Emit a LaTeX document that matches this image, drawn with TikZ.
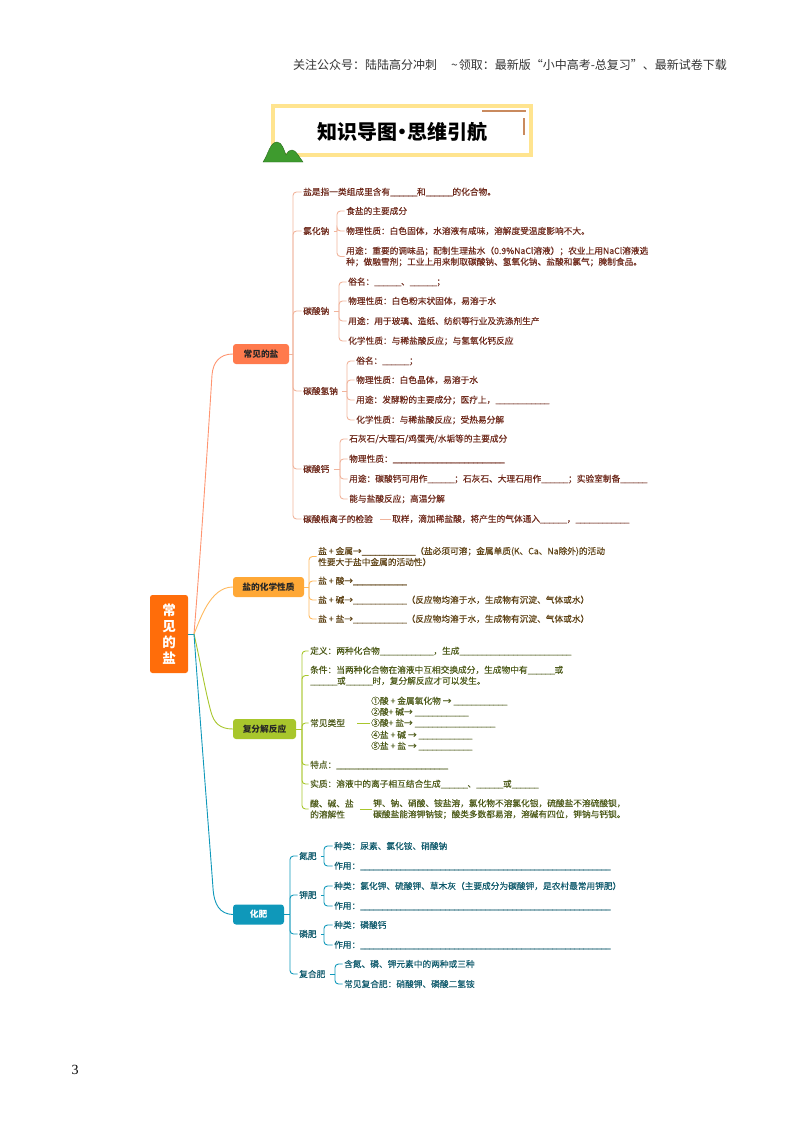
\documentclass[tikz,border=0pt]{standalone}
\usepackage{fontspec}
\setmainfont{Noto Sans CJK SC}
\newfontfamily\medfont{Noto Sans CJK SC}[FakeBold=0.25]
\newfontfamily\numfont{Liberation Serif}
\usepackage{tikz}
\usetikzlibrary{positioning,calc}
\definecolor{rootcol}{HTML}{FF6D0A}
\definecolor{saltcol}{HTML}{FF7A4D}
\definecolor{saltlink}{HTML}{F0B49C}
\definecolor{salttext}{HTML}{6E2A1C}
\definecolor{chemcol}{HTML}{FFA836}
\definecolor{chemtext}{HTML}{5E4215}
\definecolor{metacol}{HTML}{A8C62C}
\definecolor{metatext}{HTML}{4F5C1C}
\definecolor{fertcol}{HTML}{0F98BA}
\definecolor{ferttext}{HTML}{0F5A6C}
\definecolor{boxcol}{HTML}{FFE48F}
\definecolor{barcol}{HTML}{C98A5E}
\definecolor{hillcol}{HTML}{3E9B2E}
\def\uu{\_\kern-.4pt}
\def\bS{\uu\uu\uu\uu\uu\uu}
\def\bM{\bS\bS}
\def\bT{\bM\bS}
\def\bL{\bM\bM\uu}
\def\bX{\bL\bL\bS}
\tikzset{
  item/.style={anchor=west, inner sep=0pt, align=left, font=\medfont\fontsize{8.7}{11}\selectfont},
  topic/.style={rounded corners=3pt, minimum height=20pt, font=\fontsize{8.7}{11}\selectfont\bfseries, inner sep=0pt},
  link/.style={line width=.9pt, rounded corners=3.5pt, shorten >=1.5pt},
  stem/.style={line width=.9pt},
}
\begin{document}
\begin{tikzpicture}[x=1pt, y=-1pt]
\useasboundingbox (0,0) rectangle (800,1132);
\node[font=\fontsize{12}{14}\selectfont, text=black!80] (head) at (510,65) {关注公众号：陆陆高分冲刺\hspace{14pt}\textasciitilde\hspace{1pt}领取：最新版“小中高考-总复习”、最新试卷下载};
\node[font=\numfont\fontsize{14}{16}\selectfont] (pageno) at (75,1070) {3};
% title
\draw[line width=4pt, color=boxcol] (273,106) rectangle (531,155);
\draw[line width=2pt, color=barcol] (482,111) -- (526,111); \draw[line width=2pt, color=barcol] (524,118) -- (524,135);
\node[font=\fontsize{20}{22}\selectfont\bfseries] (title) at (402,132) {知识导图\kern-5pt·\kern-5pt思维引航};
\fill[color=hillcol, draw=hillcol!70!black] (263,162) .. controls (268,155) and (270,142) .. (277,142) .. controls (282,142) and (284,150) .. (286,155) .. controls (288,151) and (290,150) .. (292,150) .. controls (296,150) and (299,157) .. (303,162) -- cycle;
% root and topics
\node[fill=rootcol, rounded corners=2.5pt, minimum width=38pt, minimum height=78pt, inner sep=0pt, text=white, align=center, font=\fontsize{13.5}{16}\selectfont\bfseries] (root) at (169,634) {常\\见\\的\\盐};
\node[topic, fill=saltcol, minimum width=56pt, text=black!85] (salt) at (261,354) {常见的盐\hspace{8pt}};
\node[topic, fill=chemcol, minimum width=71pt, text=black!85] (chem) at (268.5,587) {盐的化学性质\hspace{4pt}};
\node[topic, fill=metacol, minimum width=63pt, text=black!85] (meta) at (264.5,729) {复分解反应\hspace{5pt}};
\node[topic, fill=fertcol, minimum width=51pt, text=white] (fert) at (258.5,914.5) {化肥\hspace{20pt}};
\coordinate (rootbus) at (194,634);
\draw[stem, color=fertcol] (root.east) -- (rootbus);
\draw[stem, color=saltcol!80] (rootbus) .. controls (200,560) and (206,470) .. (212,375) .. controls (213,362) and (220,354) .. (salt.west);
\draw[stem, color=chemcol!80] (rootbus) .. controls (200,620) and (210,587) .. (chem.west);
\draw[stem, color=metacol] (rootbus) .. controls (200,660) and (205,690) .. (211,712) .. controls (214,723) and (220,729) .. (meta.west);
\draw[stem, color=fertcol] (rootbus) .. controls (200,720) and (208,820) .. (213,888) .. controls (214,905) and (220,914) .. (fert.west);
% salts
\foreach \name/\y/\txt in {sdef/192/盐是指一类组成里含有\bS 和\bS 的化合物。, snacl/231/氯化钠, sna/311/碳酸钠, snah/391/碳酸氢钠, sca/469/碳酸钙, stest/519/碳酸根离子的检验}
  \node[item, text=salttext] (\name) at (303,\y) {\txt};
\foreach \name/\y/\txt in {nacla/211/食盐的主要成分, naclb/231/物理性质：白色固体，水溶液有咸味，溶解度受温度影响不大。}
  \node[item, text=salttext] (\name) at (346,\y) {\txt};
\node[item, text=salttext] (naclc) at (346,256.5) {用途：重要的调味品；配制生理盐水（0.9\%NaCl溶液）；农业上用NaCl溶液选\\种；做融雪剂；工业上用来制取碳酸钠、氢氧化钠、盐酸和氯气；腌制食品。};
\foreach \name/\y/\txt in {naa/282/俗名：\bS 、\bS ；, nab/301/物理性质：白色粉末状固体，易溶于水, nac/321/用途：用于玻璃、造纸、纺织等行业及洗涤剂生产, nad/341/化学性质：与稀盐酸反应；与氢氧化钙反应}
  \node[item, text=salttext] (\name) at (348,\y) {\txt};
\foreach \name/\y/\txt in {naha/361/俗名：\bS ；, nahb/380/物理性质：白色晶体，易溶于水, nahc/400/用途：发酵粉的主要成分；医疗上，\bM, nahd/420/化学性质：与稀盐酸反应；受热易分解}
  \node[item, text=salttext] (\name) at (356,\y) {\txt};
\foreach \name/\y/\txt in {caa/439/{石灰石/大理石/鸡蛋壳/水垢等的主要成分}, cab/459/物理性质：\bL, cac/479/用途：碳酸钙可用作\bS ；石灰石、大理石用作\bS ；实验室制备\bS, cad/499/能与盐酸反应；高温分解}
  \node[item, text=salttext] (\name) at (349,\y) {\txt};
\node[item, text=salttext] (steps) at (392,519) {取样，滴加稀盐酸，将产生的气体通入\bS ，\bM};
\coordinate (saltbus) at (293,354);
\draw[stem, color=saltlink] (salt.east) -- (saltbus);
\foreach \c in {sdef,snacl,sna,snah,sca,stest} \draw[link, color=saltlink] (saltbus) |- (\c.west);
\foreach \p/\x/\kids in {snacl/337/{nacla,naclb,naclc}, sna/339/{naa,nab,nac,nad}, snah/347/{naha,nahb,nahc,nahd}, sca/340/{caa,cab,cac,cad}} {
  \coordinate (\p bus) at (\x,0 |- \p.east);
  \draw[stem, color=saltlink] ($(\p.east)+(4,0)$) -- (\p bus);
  \foreach \c in \kids \draw[link, color=saltlink] (\p bus) |- (\c.west);
}
\draw[link, color=saltlink] (stest.east) ++(7,0) -- (steps.west);
% chemical properties
\node[item, text=chemtext] (cha) at (318,556.5) {盐 + 金属→\bM（盐必须可溶；金属单质(K、Ca、Na除外)的活动\\性要大于盐中金属的活动性）};
\foreach \name/\y/\txt in {chb/581/盐 + 酸→\bM, chc/600/盐 + 碱→\bM（反应物均溶于水，生成物有沉淀、气体或水）, chd/619/盐 + 盐→\bM（反应物均溶于水，生成物有沉淀、气体或水）}
  \node[item, text=chemtext] (\name) at (318,\y) {\txt};
\coordinate (chembus) at (309,587);
\draw[stem, color=chemcol!80] (chem.east) -- (chembus);
\foreach \c in {cha,chb,chc,chd} \draw[link, color=chemcol!80] (chembus) |- (\c.west);
% double decomposition
\foreach \name/\y/\txt in {mea/651/定义：两种化合物\bM ，生成\bL, mec/723/常见类型, med/765/特点：\bL, mee/784/实质：溶液中的离子相互结合生成\bS 、\bS 或\bS}
  \node[item, text=metatext] (\name) at (310,\y) {\txt};
\node[item, text=metatext] (meb) at (310,675.5) {条件：当两种化合物在溶液中互相交换成分，生成物中有\bS 或\\\bS 或\bS 时，复分解反应才可以发生。};
\node[item, text=metatext] (mef) at (310,809) {酸、碱、盐\\的溶解性};
\node[item, text=metatext] (sol) at (373,809) {钾、钠、硝酸、铵盐溶，氯化物不溶氯化银，硫酸盐不溶硫酸钡，\\碳酸盐能溶钾钠铵；酸类多数都易溶，溶碱有四位，钾钠与钙钡。};
\foreach \name/\y/\txt in {ta/701/①酸 + 金属氧化物 → \bM, tb/712/②酸+ 碱→ \bM, tc/723/③酸+ 盐→ \bT, td/735/④盐 + 碱 → \bM, te/746/⑤盐 + 盐 → \bM}
  \node[item, text=metatext] (\name) at (371,\y) {\txt};
\coordinate (metabus) at (302,729);
\draw[stem, color=metacol] (meta.east) -- (metabus);
\foreach \c in {mea,meb,mec,med,mee,mef} \draw[link, color=metacol] (metabus) |- (\c.west);
\draw[link, color=metacol] (mec.east) ++(12,0) -- (tc.west);
\draw[link, color=metacol] (mef.east) ++(6,0) -- (sol.west);
% fertilizers
\foreach \name/\y/\txt in {fn/856/氮肥, fk/895/钾肥, fp/934/磷肥, fc/974/复合肥}
  \node[item, text=ferttext] (\name) at (299,\y) {\txt};
\foreach \name/\y/\txt in {fna/846/种类：尿素、氯化铵、硝酸钠, fnb/866/作用：\bX, fka/886/种类：氯化钾、硫酸钾、草木灰（主要成分为碳酸钾，是农村最常用钾肥）, fkb/906/作用：\bX, fpa/925/种类：磷酸钙, fpb/945/作用：\bX}
  \node[item, text=ferttext] (\name) at (334,\y) {\txt};
\foreach \name/\y/\txt in {fca/964/含氮、磷、钾元素中的两种或三种, fcb/984/常见复合肥：硝酸钾、磷酸二氢铵}
  \node[item, text=ferttext] (\name) at (344,\y) {\txt};
\coordinate (fertbus) at (290,914.5);
\draw[stem, color=fertcol] (fert.east) -- (fertbus);
\foreach \c in {fn,fk,fp,fc} \draw[link, color=fertcol] (fertbus) |- (\c.west);
\foreach \p/\x/\kids in {fn/324/{fna,fnb}, fk/324/{fka,fkb}, fp/324/{fpa,fpb}, fc/335/{fca,fcb}} {
  \coordinate (\p bus) at (\x,0 |- \p.east);
  \draw[stem, color=fertcol] ($(\p.east)+(4,0)$) -- (\p bus);
  \foreach \c in \kids \draw[link, color=fertcol] (\p bus) |- (\c.west);
}
\end{tikzpicture}
\end{document}
